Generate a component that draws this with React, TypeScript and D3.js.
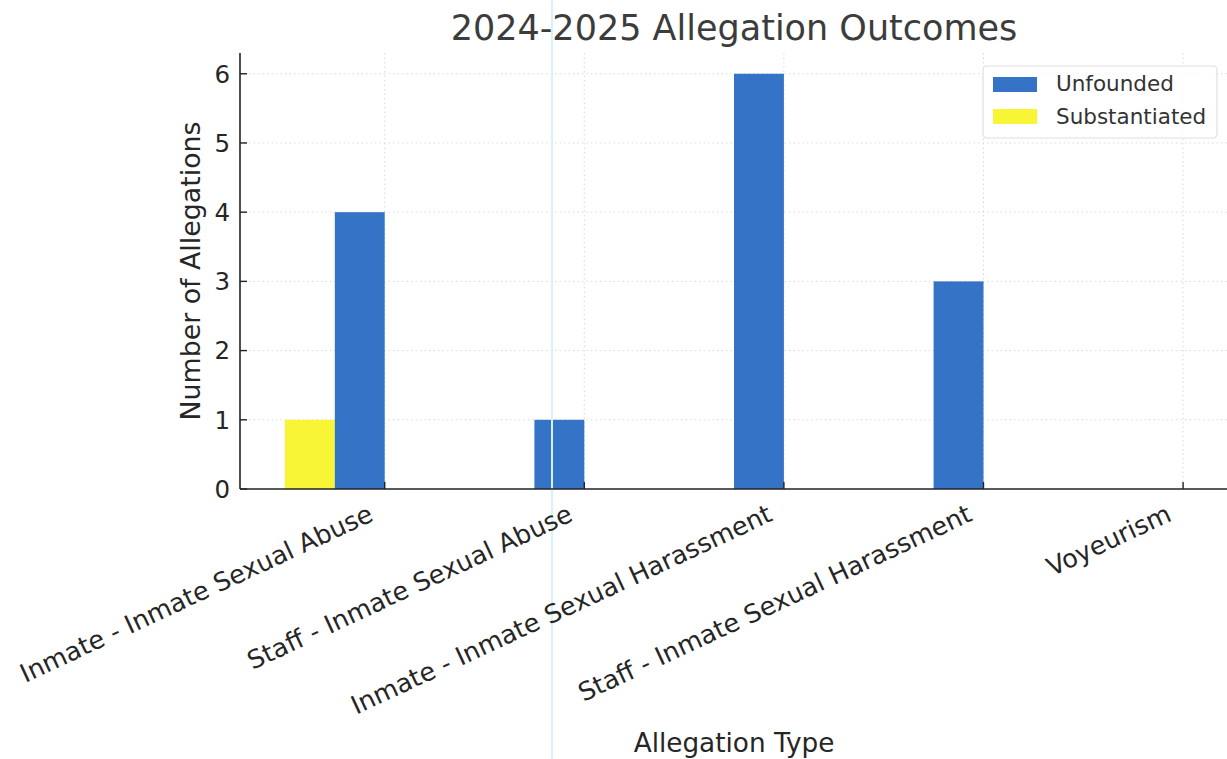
import React from "react";
import * as d3 from "d3";

const categories = [
  "Inmate - Inmate Sexual Abuse",
  "Staff - Inmate Sexual Abuse",
  "Inmate - Inmate Sexual Harassment",
  "Staff - Inmate Sexual Harassment",
  "Voyeurism",
];
const unfounded = [4, 1, 6, 3, 0];
const substantiated = [1, 0, 0, 0, 0];
const yTicks = [0, 1, 2, 3, 4, 5, 6];

const W = 1227;
const H = 759;
const FONT = "DejaVu Sans, sans-serif";
const BLUE = "#3573c7";
const YELLOW = "#f8f536";

const App = () => {
  const left = 240;
  const right = 1228;
  const top = 53;
  const bottom = 489;
  const barW = 0.25;

  const x = d3.scaleLinear().domain([-0.725, 4.225]).range([left, right]);
  const y = d3.scaleLinear().domain([0, 6.3]).range([bottom, top]);

  return (
    <svg
      width={W}
      height={H}
      style={{ position: "absolute", left: 0, top: 0, background: "#fff" }}
      fontFamily={FONT}
    >
      <rect width={W} height={H} fill="#fff" />

      {/* grid */}
      <g stroke="#d9d9d9" strokeWidth={1} strokeDasharray="1.5,3">
        {yTicks.slice(1).map((t) => (
          <line key={"gy" + t} x1={left} x2={right} y1={y(t)} y2={y(t)} />
        ))}
        {categories.map((c, i) => (
          <line key={"gx" + i} x1={x(i)} x2={x(i)} y1={top} y2={bottom} />
        ))}
      </g>

      {/* bars */}
      {substantiated.map((v, i) =>
        v > 0 ? (
          <rect
            key={"s" + i}
            x={x(i - 2 * barW)}
            width={x(i - barW) - x(i - 2 * barW)}
            y={y(v)}
            height={y(0) - y(v)}
            fill={YELLOW}
          />
        ) : null
      )}
      {unfounded.map((v, i) =>
        v > 0 ? (
          <rect
            key={"u" + i}
            x={x(i - barW)}
            width={x(i) - x(i - barW)}
            y={y(v)}
            height={y(0) - y(v)}
            fill={BLUE}
          />
        ) : null
      )}

      {/* scan artefact line */}
      <line x1={552} x2={552} y1={0} y2={H} stroke="#d4f4fa" strokeWidth={2} />

      {/* axes */}
      <line x1={left} x2={left} y1={top} y2={bottom} stroke="#222" strokeWidth={1.6} />
      <line x1={left} x2={right} y1={bottom} y2={bottom} stroke="#222" strokeWidth={1.6} />

      {yTicks.map((t) => (
        <g key={"yt" + t}>
          <line x1={left} x2={left + 7} y1={y(t)} y2={y(t)} stroke="#222" strokeWidth={1.4} />
          <text
            x={left - 10}
            y={y(t)}
            dy="0.36em"
            textAnchor="end"
            fontSize={24.5}
            fill="#262626"
          >
            {t}
          </text>
        </g>
      ))}

      {categories.map((c, i) => (
        <g key={"xt" + i}>
          <line x1={x(i)} x2={x(i)} y1={bottom - 7} y2={bottom} stroke="#222" strokeWidth={1.4} />
          <text
            transform={`translate(${x(i) - 10},${bottom + 31}) rotate(-25)`}
            textAnchor="end"
            fontSize={25.5}
            fill="#262626"
          >
            {c}
          </text>
        </g>
      ))}

      {/* titles */}
      <text x={(left + right) / 2} y={40} textAnchor="middle" fontSize={35} fill="#3c3c3c">
        2024-2025 Allegation Outcomes
      </text>
      <text x={(left + right) / 2} y={752} textAnchor="middle" fontSize={26.3} fill="#262626">
        Allegation Type
      </text>
      <text
        transform={`translate(${200},${(top + bottom) / 2}) rotate(-90)`}
        textAnchor="middle"
        fontSize={26.8}
        fill="#262626"
      >
        Number of Allegations
      </text>

      {/* legend */}
      <g>
        <rect
          x={983}
          y={66}
          width={234}
          height={72}
          rx={4}
          fill="#fff"
          fillOpacity={0.8}
          stroke="#e0e0e0"
          strokeWidth={1.2}
        />
        <rect x={993} y={77} width={44} height={15} fill={BLUE} />
        <text x={1056} y={91} fontSize={21.5} fill="#333">
          Unfounded
        </text>
        <rect x={993} y={109} width={44} height={15} fill={YELLOW} />
        <text x={1056} y={124} fontSize={21.5} fill="#333">
          Substantiated
        </text>
      </g>
    </svg>
  );
};

export default App;
